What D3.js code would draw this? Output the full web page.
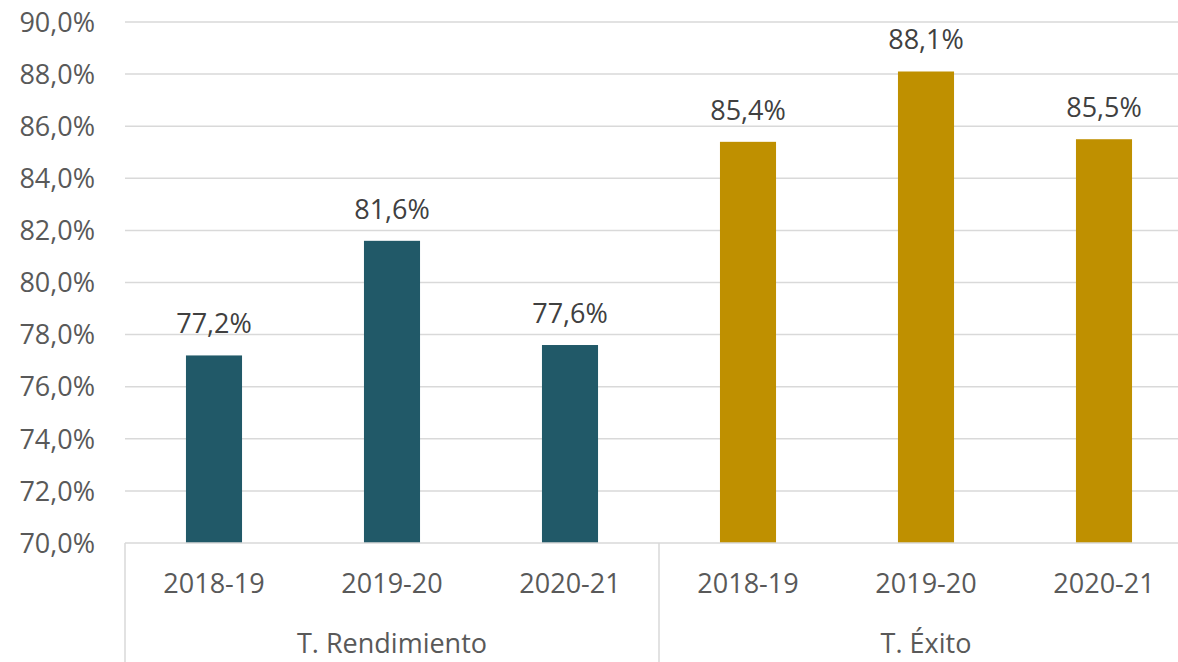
<!DOCTYPE html>
<html>
<head>
<meta charset="utf-8">
<script src="https://cdn.jsdelivr.net/npm/d3@7"></script>
<style>
  html, body { margin: 0; padding: 0; background: #fff; }
  svg { display: block; font-family: "Open Sans", sans-serif; }
</style>
</head>
<body>
<svg id="chart" width="1178" height="662"></svg>
<script>
// chart data
const groups = ["T. Rendimiento", "T. Éxito"];
const years = ["2018-19", "2019-20", "2020-21"];
const rendimiento = [77.2, 81.6, 77.6];
const exito = [85.4, 88.1, 85.5];
const yTicks = [70, 72, 74, 76, 78, 80, 82, 84, 86, 88, 90];
const groupColors = ["#215968", "#BF9000"];

const width = 1178, height = 662;
const plotLeft = 125, plotRight = 1193, plotTop = 22, plotBottom = 543;
const fontSize = 27;

const svg = d3.select('#chart');

// flatten into one row per bar
const rows = [];
[rendimiento, exito].forEach((vals, g) => {
    vals.forEach((v, i) => {
        rows.push({ key: groups[g] + '|' + years[i], group: g, year: years[i], value: v });
    });
});

const x = d3.scaleBand()
    .domain(rows.map(d => d.key))
    .range([plotLeft, plotRight])
    .paddingInner(0.685)
    .paddingOuter(0.3425);

const y = d3.scaleLinear()
    .domain([70, 90])
    .range([plotBottom, plotTop]);

const fmt = v => d3.format('.1f')(v).replace('.', ',') + '%';

// gridlines
svg.append('g')
    .selectAll('line')
    .data(yTicks.slice(1))
    .enter().append('line')
    .attr('x1', plotLeft)
    .attr('x2', width)
    .attr('y1', d => y(d))
    .attr('y2', d => y(d))
    .attr('stroke', '#d9d9d9')
    .attr('stroke-width', 1.5);

// y tick labels
svg.append('g')
    .selectAll('text')
    .data(yTicks)
    .enter().append('text')
    .attr('x', 95)
    .attr('y', d => y(d))
    .attr('dy', '0.36em')
    .attr('text-anchor', 'end')
    .attr('font-size', fontSize)
    .attr('fill', '#595959')
    .text(d => fmt(d));

// bars
svg.append('g')
    .selectAll('rect')
    .data(rows)
    .enter().append('rect')
    .attr('x', d => x(d.key))
    .attr('y', d => y(d.value))
    .attr('width', x.bandwidth())
    .attr('height', d => y(70) - y(d.value))
    .attr('fill', d => groupColors[d.group]);

// data labels
svg.append('g')
    .selectAll('text')
    .data(rows)
    .enter().append('text')
    .attr('x', d => x(d.key) + x.bandwidth() / 2)
    .attr('y', d => y(d.value) - 22)
    .attr('text-anchor', 'middle')
    .attr('font-size', fontSize)
    .attr('fill', '#404040')
    .text(d => fmt(d.value));

// x axis line and group separators
const step = x.step();
svg.append('line')
    .attr('x1', plotLeft).attr('x2', width)
    .attr('y1', plotBottom).attr('y2', plotBottom)
    .attr('stroke', '#d9d9d9').attr('stroke-width', 1.5);

svg.append('g')
    .selectAll('line')
    .data([0, 3, 6])
    .enter().append('line')
    .attr('x1', d => plotLeft + d * step)
    .attr('x2', d => plotLeft + d * step)
    .attr('y1', plotBottom)
    .attr('y2', height)
    .attr('stroke', '#d9d9d9')
    .attr('stroke-width', 1.5);

// year labels
svg.append('g')
    .selectAll('text')
    .data(rows)
    .enter().append('text')
    .attr('x', d => x(d.key) + x.bandwidth() / 2)
    .attr('y', 593)
    .attr('text-anchor', 'middle')
    .attr('font-size', fontSize)
    .attr('fill', '#595959')
    .text(d => d.year);

// group labels
svg.append('g')
    .selectAll('text')
    .data(groups)
    .enter().append('text')
    .attr('x', (d, i) => plotLeft + (i * 3 + 1.5) * step)
    .attr('y', 653)
    .attr('text-anchor', 'middle')
    .attr('font-size', fontSize)
    .attr('fill', '#595959')
    .text(d => d);
</script>
</body>
</html>
